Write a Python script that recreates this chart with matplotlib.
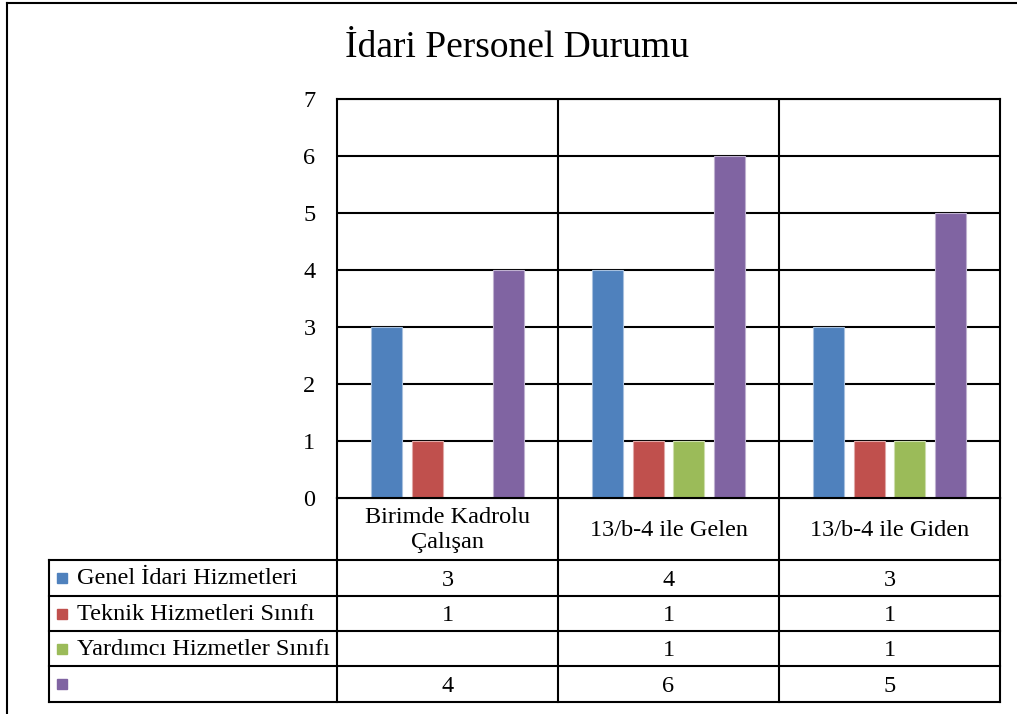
import numpy as np
import matplotlib
matplotlib.use("Agg")
import matplotlib.pyplot as plt
from matplotlib.patches import Rectangle

plt.rcParams["font.family"] = ["Liberation Serif", "DejaVu Serif"]

# data
categories = ["Birimde Kadrolu\nÇalışan", "13/b-4 ile Gelen", "13/b-4 ile Giden"]
series_names = ["Genel İdari Hizmetleri", "Teknik Hizmetleri Sınıfı",
                "Yardımcı Hizmetler Sınıfı", ""]
genel = [3, 4, 3]
teknik = [1, 1, 1]
yardimci = [None, 1, 1]
diger = [4, 6, 5]
series_values = [genel, teknik, yardimci, diger]
colors = ["#4F81BD", "#C0504D", "#9BBB59", "#8064A2"]
edge_colors = ["#A7C0DE", "#E0A8A6", "#CDDDAC", "#BFB1D0"]

W, H = 1017, 714
fig = plt.figure(figsize=(W / 100, H / 100), dpi=100)

# layout in pixels
ax_left, ax_right, ax_top, ax_bottom = 337, 1000, 99, 498
tab_left = 49
row_edges = [498, 560, 596, 631, 666, 702]
fs = 17.5

ax = fig.add_axes([ax_left / W, 1 - ax_bottom / H,
                   (ax_right - ax_left) / W, (ax_bottom - ax_top) / H])

x = np.arange(len(categories))
pitch = 0.1827
width = 0.14
for i, (vals, c, ec) in enumerate(zip(series_values, colors, edge_colors)):
    v = np.array([np.nan if a is None else a for a in vals], dtype=float)
    ax.bar(x + (i - 1.5) * pitch, v, width=width, color=c,
           edgecolor=ec, linewidth=0.8, zorder=3)

ax.set_xlim(-0.5, len(categories) - 0.5)
ax.set_ylim(0, 7)
ax.set_yticks(range(8))
ax.tick_params(axis="y", length=0, pad=15.5, labelsize=fs)
ax.set_xticks([])
ax.grid(False)
for yv in range(1, 8):
    ax.axhline(yv, color="black", lw=1.5, zorder=1)
for xv in np.arange(0.5, len(categories) - 0.5):
    ax.axvline(xv, color="black", lw=1.5, zorder=1)
for s in ax.spines.values():
    s.set_linewidth(1.5)
    s.set_zorder(4)

# data table under the chart, drawn on an overlay in pixel units
tab = fig.add_axes([0, 0, 1, 1], zorder=-1)
tab.set_xlim(0, W)
tab.set_ylim(H, 0)
tab.axis("off")

col_w = (ax_right - ax_left) / len(categories)
col_edges = [ax_left + k * col_w for k in range(len(categories) + 1)]
lw = 1.5

for xe in col_edges:
    tab.plot([xe, xe], [row_edges[0], row_edges[-1]], color="black", lw=lw)
tab.plot([tab_left, tab_left], [row_edges[1], row_edges[-1]], color="black", lw=lw)
tab.plot([ax_left, ax_right], [row_edges[0], row_edges[0]], color="black", lw=lw)
for ye in row_edges[1:]:
    tab.plot([tab_left, ax_right], [ye, ye], color="black", lw=lw)

for k, cat in enumerate(categories):
    xc = (col_edges[k] + col_edges[k + 1]) / 2
    yc = (row_edges[0] + row_edges[1]) / 2
    tab.text(xc, yc + 1, cat, ha="center", va="center", fontsize=fs,
             linespacing=1.2)

for r, (name, vals, c) in enumerate(zip(series_names, series_values, colors)):
    y0, y1 = row_edges[r + 1], row_edges[r + 2]
    yc = (y0 + y1) / 2
    tab.add_patch(Rectangle((57, yc - 5), 10, 10, color=c))
    tab.text(77, yc + 1, name, ha="left", va="center", fontsize=fs)
    for k, v in enumerate(vals):
        if v is None:
            continue
        xc = (col_edges[k] + col_edges[k + 1]) / 2
        tab.text(xc, yc + 2, str(v), ha="center", va="center", fontsize=fs)

# outer chart frame (top and left visible)
tab.plot([7, W], [3, 3], color="black", lw=1.5)
tab.plot([7, 7], [3, H], color="black", lw=1.5)

fig.text(517 / W, 1 - 48 / H, "İdari Personel Durumu", ha="center",
         va="center", fontsize=27)

fig.savefig("out.png", dpi=100)
